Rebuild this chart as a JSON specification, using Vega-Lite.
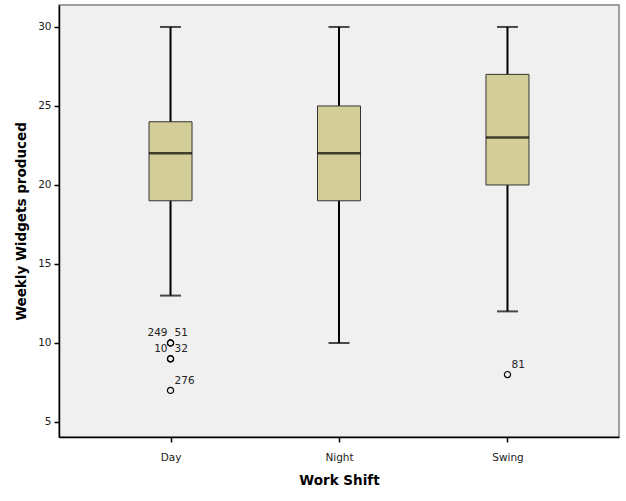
{
  "$schema": "https://vega.github.io/schema/vega-lite/v6.json",
  "width": 560,
  "height": 432,
  "autosize": {"type": "none"},
  "padding": {"left": 59, "top": 5, "right": 7, "bottom": 64},
  "background": "white",
  "config": {
    "view": {"fill": "#f0f0f0", "stroke": "#808080", "strokeWidth": 1.5},
    "font": "DejaVu Sans",
    "axis": {"grid": false, "domainColor": "black", "domainWidth": 1.5, "tickColor": "black", "tickWidth": 1.5, "tickSize": 5, "labelFontSize": 10.5, "labelColor": "#222", "titleFontSize": 13.5, "titleFontWeight": "bold", "titleColor": "black"}
  },
  "datasets": {
    "boxes": [
      {"shift": "Day", "min": 13, "q1": 19, "median": 22, "q3": 24, "max": 30},
      {"shift": "Night", "min": 10, "q1": 19, "median": 22, "q3": 25, "max": 30},
      {"shift": "Swing", "min": 12, "q1": 20, "median": 23, "q3": 27, "max": 30}
    ],
    "outliers": [
      {"shift": "Day", "value": 10, "case": "249"},
      {"shift": "Day", "value": 10, "case": "51"},
      {"shift": "Day", "value": 9, "case": "10"},
      {"shift": "Day", "value": 9, "case": "32"},
      {"shift": "Day", "value": 7, "case": "276"},
      {"shift": "Swing", "value": 8, "case": "81"}
    ]
  },
  "encoding": {
    "x": {"field": "shift", "type": "nominal", "scale": {"type": "point", "domain": ["Day", "Night", "Swing"], "padding": 0.662}, "axis": {"title": "Work Shift", "labelAngle": 0, "labelPadding": 10, "titlePadding": 11}}
  },
  "layer": [
    {
      "data": {"name": "boxes"},
      "mark": {"type": "rule", "color": "black", "strokeWidth": 2},
      "encoding": {
        "y": {"field": "min", "type": "quantitative", "scale": {"domain": [4.05, 31.39], "nice": false, "zero": false}, "axis": {"title": "Weekly Widgets produced", "values": [5, 10, 15, 20, 25, 30], "labelPadding": 3, "titlePadding": 9}},
        "y2": {"field": "max"}
      }
    },
    {
      "data": {"name": "boxes"},
      "mark": {"type": "tick", "color": "black", "size": 21, "thickness": 2},
      "encoding": {"y": {"field": "min", "type": "quantitative"}}
    },
    {
      "data": {"name": "boxes"},
      "mark": {"type": "tick", "color": "black", "size": 21, "thickness": 2},
      "encoding": {"y": {"field": "max", "type": "quantitative"}}
    },
    {
      "data": {"name": "boxes"},
      "mark": {"type": "bar", "width": 43, "fill": "#d3ce97", "stroke": "#333", "strokeWidth": 1},
      "encoding": {"y": {"field": "q1", "type": "quantitative"}, "y2": {"field": "q3"}}
    },
    {
      "data": {"name": "boxes"},
      "mark": {"type": "tick", "color": "black", "size": 43, "thickness": 2.5},
      "encoding": {"y": {"field": "median", "type": "quantitative"}}
    },
    {
      "data": {"name": "outliers"},
      "mark": {"type": "point", "shape": "circle", "filled": false, "stroke": "black", "strokeWidth": 1.2, "size": 38, "opacity": 1},
      "encoding": {"y": {"field": "value", "type": "quantitative"}}
    },
    {
      "data": {"name": "outliers"},
      "transform": [{"filter": "datum.case == '249' || datum.case == '10'"}],
      "mark": {"type": "text", "align": "right", "baseline": "alphabetic", "dx": -3, "dy": -6.5, "fontSize": 10.5, "color": "#222"},
      "encoding": {"y": {"field": "value", "type": "quantitative"}, "text": {"field": "case"}}
    },
    {
      "data": {"name": "outliers"},
      "transform": [{"filter": "datum.case != '249' && datum.case != '10'"}],
      "mark": {"type": "text", "align": "left", "baseline": "alphabetic", "dx": 4, "dy": -6.5, "fontSize": 10.5, "color": "#222"},
      "encoding": {"y": {"field": "value", "type": "quantitative"}, "text": {"field": "case"}}
    }
  ]
}
